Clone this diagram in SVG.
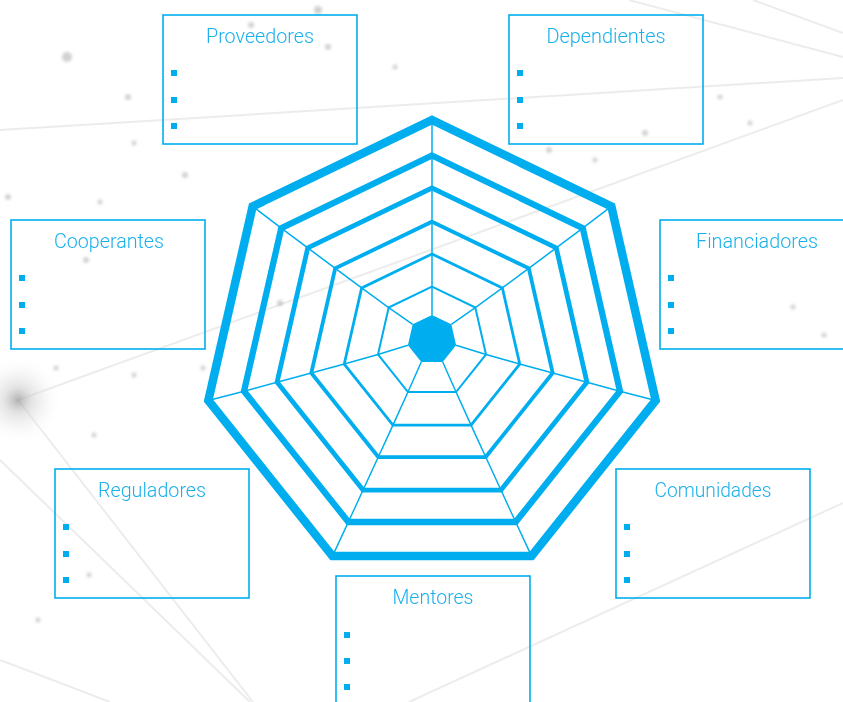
<svg xmlns="http://www.w3.org/2000/svg" width="843" height="702" viewBox="0 0 843 702">
<defs>
<style>
.bg{stroke:#cfcfcf;stroke-width:2;fill:none;opacity:0.4}
.dot{fill:#9a9a9a;opacity:0.45}
.box{fill:none;stroke:#00AEEF;stroke-width:1.6}
.ttl{font-family:Roboto,"Liberation Sans",sans-serif;font-weight:300;font-size:19.5px;fill:#19B0EC;text-anchor:middle}
.bul{fill:#00AEEF}
.ring{fill:none;stroke:#00AEEF;stroke-linejoin:miter;stroke-miterlimit:10}
.spoke{fill:none;stroke:#00AEEF;stroke-width:1.5}
</style>
<radialGradient id="blob" cx="0.5" cy="0.5" r="0.5">
<stop offset="0" stop-color="#a0a0a0" stop-opacity="0.8"/>
<stop offset="0.3" stop-color="#c8c8c8" stop-opacity="0.5"/>
<stop offset="1" stop-color="#ffffff" stop-opacity="0"/>
</radialGradient>
<filter id="blur" x="-1" y="-1" width="3" height="3"><feGaussianBlur stdDeviation="1.5"/></filter>
</defs>
<rect width="843" height="702" fill="#ffffff"/>
<g id="background">
<line class="bg" x1="0" y1="130" x2="843" y2="78"/>
<line class="bg" x1="843" y1="100" x2="18" y2="400"/>
<line class="bg" x1="629" y1="0" x2="843" y2="57"/>
<line class="bg" x1="753" y1="0" x2="843" y2="33"/>
<line class="bg" x1="0" y1="460" x2="250" y2="702"/>
<line class="bg" x1="18" y1="400" x2="253" y2="702"/>
<line class="bg" x1="0" y1="660" x2="110" y2="702"/>
<line class="bg" x1="843" y1="503" x2="409" y2="702"/>
<circle cx="18" cy="400" r="45" fill="url(#blob)"/>
<g filter="url(#blur)">
<circle class="dot" cx="318" cy="10" r="4"/>
<circle class="dot" cx="251" cy="25" r="3"/>
<circle class="dot" cx="328" cy="47" r="3"/>
<circle class="dot" cx="67" cy="57" r="5" opacity="0.25"/>
<circle class="dot" cx="128" cy="97" r="3"/>
<circle class="dot" cx="395" cy="67" r="2.5"/>
<circle class="dot" cx="645" cy="133" r="3"/>
<circle class="dot" cx="549" cy="150" r="3"/>
<circle class="dot" cx="595" cy="160" r="2.5"/>
<circle class="dot" cx="185" cy="175" r="3"/>
<circle class="dot" cx="100" cy="202" r="2.5"/>
<circle class="dot" cx="8" cy="197" r="3"/>
<circle class="dot" cx="720" cy="97" r="2.5"/>
<circle class="dot" cx="750" cy="123" r="2.5"/>
<circle class="dot" cx="134" cy="143" r="2.5"/>
<circle class="dot" cx="86" cy="260" r="3"/>
<circle class="dot" cx="280" cy="303" r="3"/>
<circle class="dot" cx="793" cy="307" r="2.5"/>
<circle class="dot" cx="824" cy="335" r="2.5"/>
<circle class="dot" cx="203" cy="368" r="2.5"/>
<circle class="dot" cx="134" cy="375" r="2.5"/>
<circle class="dot" cx="56" cy="368" r="2.5"/>
<circle class="dot" cx="94" cy="435" r="2.5"/>
<circle class="dot" cx="38" cy="620" r="2.5"/>
<circle class="dot" cx="89" cy="575" r="2.5"/>
</g>
</g>
<g id="web">
<g id="spokes">
<polyline class="spoke" points="432,315 432,286.7 432,254 432,221.7 432,188 432,155.5 432,120"/>
<polyline class="spoke" points="451.31,324.3 475.31,307.56 502.36,287.89 528.79,268.31 556.23,247.83 582.74,228.09 611.35,206.37"/>
<polyline class="spoke" points="456.08,345.2 486.01,354.43 519.74,364.03 552.7,373.05 586.92,382.26 619.97,391.2 655.65,400.45"/>
<polyline class="spoke" points="442.72,361.95 456.04,392.01 471.05,425.09 485.71,457.04 500.94,490.06 515.65,522.01 531.53,556.08"/>
<polyline class="spoke" points="421.28,361.95 407.96,392.01 392.95,425.09 378.29,457.04 363.06,490.06 348.35,522.01 332.47,556.08"/>
<polyline class="spoke" points="407.92,345.2 377.99,354.43 344.26,364.03 311.3,373.05 277.08,382.26 244.03,391.2 208.35,400.45"/>
<polyline class="spoke" points="412.69,324.3 388.69,307.56 361.64,287.89 335.21,268.31 307.77,247.83 281.26,228.09 252.65,206.37"/>
</g>
<polygon class="ring" stroke-width="2" points="432,286.7 475.31,307.56 486.01,354.43 456.04,392.01 407.96,392.01 377.99,354.43 388.69,307.56"/>
<polygon class="ring" stroke-width="2.8" points="432,254 502.36,287.89 519.74,364.03 471.05,425.09 392.95,425.09 344.26,364.03 361.64,287.89"/>
<polygon class="ring" stroke-width="3.8" points="432,221.7 528.79,268.31 552.7,373.05 485.71,457.04 378.29,457.04 311.3,373.05 335.21,268.31"/>
<polygon class="ring" stroke-width="4.8" points="432,188 556.23,247.83 586.92,382.26 500.94,490.06 363.06,490.06 277.08,382.26 307.77,247.83"/>
<polygon class="ring" stroke-width="6.3" points="432,155.5 582.74,228.09 619.97,391.2 515.65,522.01 348.35,522.01 244.03,391.2 281.26,228.09"/>
<polygon class="ring" stroke-width="8.5" points="432,120 611.35,206.37 655.65,400.45 531.53,556.08 332.47,556.08 208.35,400.45 252.65,206.37"/>
<polygon id="core" fill="#00AEEF" points="432,315 451.31,324.3 456.08,345.2 442.72,361.95 421.28,361.95 407.92,345.2 412.69,324.3"/>
</g>
<g id="proveedores">
<rect class="box" x="163" y="15" width="194" height="129"/>
<text class="ttl" x="260" y="42.5" textLength="108" lengthAdjust="spacingAndGlyphs">Proveedores</text>
<rect class="bul" x="171" y="70" width="6" height="6"/><rect class="bul" x="171" y="97" width="6" height="6"/><rect class="bul" x="171" y="123" width="6" height="6"/>
</g>
<g id="dependientes">
<rect class="box" x="509" y="15" width="194" height="129"/>
<text class="ttl" x="606" y="42.5" textLength="119" lengthAdjust="spacingAndGlyphs">Dependientes</text>
<rect class="bul" x="517" y="70" width="6" height="6"/><rect class="bul" x="517" y="97" width="6" height="6"/><rect class="bul" x="517" y="123" width="6" height="6"/>
</g>
<g id="cooperantes">
<rect class="box" x="11" y="220" width="194" height="129"/>
<text class="ttl" x="109" y="247.5" textLength="110" lengthAdjust="spacingAndGlyphs">Cooperantes</text>
<rect class="bul" x="19" y="275" width="6" height="6"/><rect class="bul" x="19" y="302" width="6" height="6"/><rect class="bul" x="19" y="328" width="6" height="6"/>
</g>
<g id="financiadores">
<rect class="box" x="660" y="220" width="194" height="129"/>
<text class="ttl" x="757" y="247.5" textLength="122" lengthAdjust="spacingAndGlyphs">Financiadores</text>
<rect class="bul" x="668" y="275" width="6" height="6"/><rect class="bul" x="668" y="302" width="6" height="6"/><rect class="bul" x="668" y="328" width="6" height="6"/>
</g>
<g id="reguladores">
<rect class="box" x="55" y="469" width="194" height="129"/>
<text class="ttl" x="152" y="496.5" textLength="108" lengthAdjust="spacingAndGlyphs">Reguladores</text>
<rect class="bul" x="63" y="524" width="6" height="6"/><rect class="bul" x="63" y="551" width="6" height="6"/><rect class="bul" x="63" y="577" width="6" height="6"/>
</g>
<g id="comunidades">
<rect class="box" x="616" y="469" width="194" height="129"/>
<text class="ttl" x="713" y="496.5" textLength="117" lengthAdjust="spacingAndGlyphs">Comunidades</text>
<rect class="bul" x="624" y="524" width="6" height="6"/><rect class="bul" x="624" y="551" width="6" height="6"/><rect class="bul" x="624" y="577" width="6" height="6"/>
</g>
<g id="mentores">
<rect class="box" x="336" y="576" width="194" height="140"/>
<text class="ttl" x="433" y="604" textLength="81" lengthAdjust="spacingAndGlyphs">Mentores</text>
<rect class="bul" x="344" y="632" width="6" height="6"/><rect class="bul" x="344" y="658" width="6" height="6"/><rect class="bul" x="344" y="684" width="6" height="6"/>
</g>
</svg>
